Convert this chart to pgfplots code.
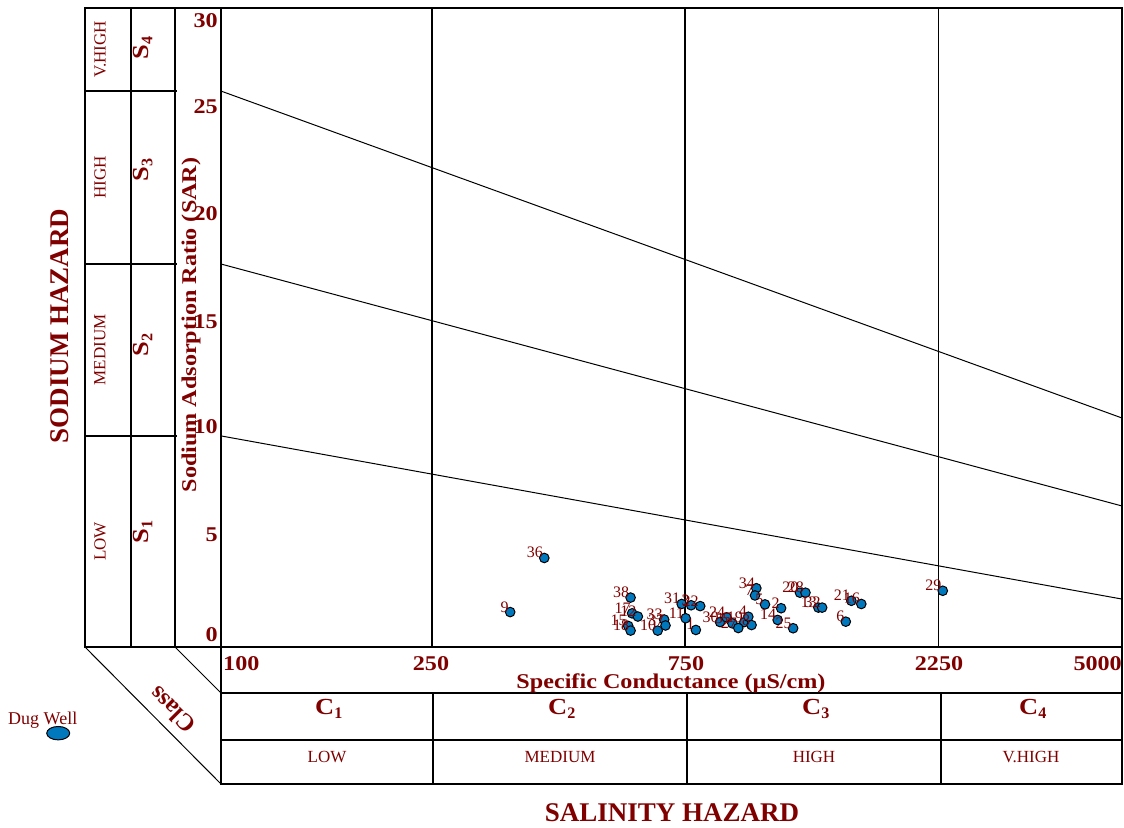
\documentclass[border=0pt]{standalone}
\usepackage{pgfplots}
\pgfplotsset{compat=1.18}
\usepackage{pgfplotstable}
\usepackage{fontspec}
\setmainfont{Liberation Serif}
\newfontfamily\wide[FakeStretch=1.15]{Liberation Serif}
\definecolor{dred}{RGB}{128,0,0}
\definecolor{dotblue}{RGB}{0,120,190}

\pgfplotstableread{
x y lab
407 4.18 36
351 1.64 9
592 2.32 38
596 1.58 17
611 1.43 12
586 0.99 15
592 0.77 18
685 1.29 33
689 1.01 37
666 0.77 10
739 2.02 31
770 1.96 3
801 1.92 22
752 1.35 11
786 0.80 1
873 1.17 30
898 1.39 24
921 1.11 35
970 1.17 19
987 1.42 4
1001 1.03 8
945 0.89 27
1022 2.76 34
1016 2.42 7
1061 2.00 5
1138 1.82 2
1121 1.27 14
1199 0.88 25
1235 2.55 20
1265 2.55 28
1338 1.85 13
1360 1.85 32
1544 2.17 21
1612 2.02 16
1507 1.19 6
2296 2.64 29
}\wells

\begin{document}
\begin{tikzpicture}[x=1pt,y=1pt]
\useasboundingbox (0,0) rectangle (1124,827);
% ---- left (sodium hazard) table
\draw[line width=1.3pt] (85,180) rectangle (221,819);
\draw[line width=1.3pt] (131,180)--(131,819) (175,180)--(175,819);
\draw[line width=1.1pt] (85,736)--(177,736) (85,563)--(177,563) (85,391)--(177,391);
% ---- bottom (salinity hazard) table
\draw[line width=1.3pt] (221,180) rectangle (1122,43);
\draw[line width=1.1pt] (221,134)--(1122,134) (221,87)--(1122,87);
\draw[line width=1.1pt] (433,134)--(433,43) (687,134)--(687,43) (941,134)--(941,43);
\draw[line width=2.6pt] (85,180)--(1122,180);
% ---- diagonals
\draw[line width=1pt] (85,180)--(221,43);
\draw[line width=1pt] (175,180)--(221,134);
% ---- texts
\begin{scope}[every node/.style={text=dred, inner sep=0pt}]
\node[rotate=90, font=\fontsize{17}{17}\selectfont] at (100,777.5) {V.HIGH};
\node[rotate=90, font=\fontsize{17}{17}\selectfont] at (100,649.5) {HIGH};
\node[rotate=90, font=\fontsize{17}{17}\selectfont] at (100,477) {MEDIUM};
\node[rotate=90, font=\fontsize{17}{17}\selectfont] at (100,285.5) {LOW};
\node[rotate=90, font=\wide\bfseries\fontsize{23}{23}\selectfont] at (143,779) {S$_{\mathbf 4}$};
\node[rotate=90, font=\wide\bfseries\fontsize{23}{23}\selectfont] at (143,657) {S$_{\mathbf 3}$};
\node[rotate=90, font=\wide\bfseries\fontsize{23}{23}\selectfont] at (143,482) {S$_{\mathbf 2}$};
\node[rotate=90, font=\wide\bfseries\fontsize{23}{23}\selectfont] at (143,295) {S$_{\mathbf 1}$};
\node[rotate=90, font=\bfseries\fontsize{27}{27}\selectfont] at (60,501) {SODIUM HAZARD};
\node[rotate=90, font=\wide\bfseries\fontsize{21}{21}\selectfont] at (191,502) {Sodium Adsorption Ratio (SAR)};
\node[font=\bfseries\fontsize{27}{27}\selectfont] at (672,14) {SALINITY HAZARD};
\node[font=\wide\bfseries\fontsize{21}{21}\selectfont] at (671,144) {Specific Conductance (µS/cm)};
\begin{scope}[every node/.append style={font=\wide\bfseries\fontsize{21}{21}\selectfont}]
\node[anchor=west] at (223,163) {100};
\node at (431,163) {250};
\node at (686,163) {750};
\node at (939,163) {2250};
\node[anchor=east] at (1122,163) {5000};
\end{scope}
\begin{scope}[every node/.append style={font=\wide\bfseries\fontsize{23}{23}\selectfont}]
\node at (329,118) {C$_{\mathbf 1}$};
\node at (562,118) {C$_{\mathbf 2}$};
\node at (816,118) {C$_{\mathbf 3}$};
\node at (1033,118) {C$_{\mathbf 4}$};
\end{scope}
\begin{scope}[every node/.append style={font=\fontsize{17}{17}\selectfont}]
\node at (327,70) {LOW};
\node at (560,70) {MEDIUM};
\node at (814,70) {HIGH};
\node at (1031,70) {V.HIGH};
\end{scope}
\node[rotate=135, font=\bfseries\fontsize{24}{24}\selectfont] at (172,117) {Class};
\end{scope}
% ---- main axis
\begin{axis}[
  at={(221pt,180pt)}, anchor=south west,
  scale only axis, width=901pt, height=639pt,
  xmode=log, xmin=100, xmax=5000, ymin=0, ymax=30,
  xtick={100,250,750,2250,5000}, xticklabels={},
  xmajorgrids, grid style={black, line width=1.1pt},
  ytick={0.56,5.26,10.33,15.28,20.33,25.35,29.40},
  yticklabels={0,5,10,15,20,25,30},
  yticklabel style={anchor=east, inner sep=0pt, xshift=-3pt, text=dred,
    font=\wide\bfseries\fontsize{21}{21}\selectfont},
  major tick length=0pt,
  axis line style={black, line width=1.3pt},
  clip=false,
  legend style={at={(rel axis cs:-0.2364,-0.1017)}, anchor=north west,
    draw=none, fill=none, inner sep=0pt, row sep=0pt, column sep=0pt,
    nodes={inner sep=0pt, text=dred, font=\fontsize{18}{18}\selectfont}},
  legend image code/.code={\draw[overlay, fill=dotblue, draw=black, line width=1pt] (50pt,-14pt) ellipse (11.5pt and 6.7pt);},
]
\addplot[black, line width=1pt, forget plot] coordinates {(100,26.10) (5000,10.75)};
\addplot[black, line width=1pt, forget plot] coordinates {(100,17.98) (5000,6.62)};
\addplot[black, line width=1pt, forget plot] coordinates {(100,9.91) (5000,2.25)};
\addplot[only marks, mark=*, mark size=4.8pt,
  mark options={fill=dotblue, draw=black, line width=1pt},
  point meta=explicit symbolic, nodes near coords,
  nodes near coords style={anchor=base east, inner sep=0pt, xshift=-1pt,
    text=dred, font=\fontsize{16}{16}\selectfont}]
  table[x=x, y=y, meta=lab] {\wells};
\addlegendentry{Dug Well}
\end{axis}
\end{tikzpicture}
\end{document}
